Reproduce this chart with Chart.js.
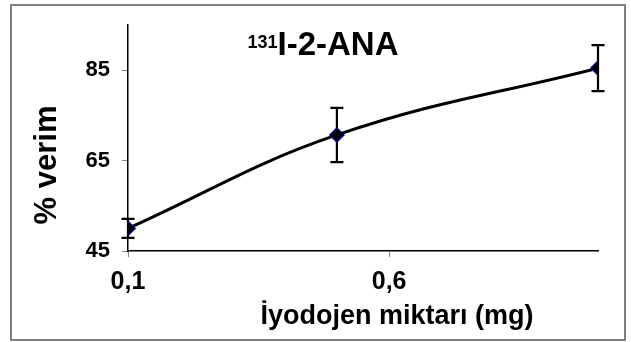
<!DOCTYPE html>
<html>
<head>
<meta charset="utf-8">
<script src="https://cdn.jsdelivr.net/npm/chart.js@4/dist/chart.umd.min.js"></script>
<style>
  body { margin: 0; background: #fff; }
  canvas { display: block; }
</style>
</head>
<body>
<canvas id="myChart" width="631" height="342"></canvas>
<script>
// iyodojen miktari (mg) vs % verim
var doses = [0.1, 0.5, 1.0];
var yieldPct = [50.0, 70.7, 85.5];
var yieldErr = [2.1, 6.0, 5.1];
var xTickVals = [0.1, 0.6];
var yTickVals = [45, 65, 85];

var FONT = "'Liberation Sans', Arial, sans-serif";

// border + titles drawn as text on the canvas
var decor = {
  id: 'decor',
  beforeDraw: function (chart) {
    var ctx = chart.ctx;
    ctx.save();
    ctx.fillStyle = '#fff';
    ctx.fillRect(0, 0, chart.width, chart.height);
    ctx.strokeStyle = '#808080';
    ctx.lineWidth = 2;
    ctx.strokeRect(11, 5, 614, 335);
    ctx.restore();
  },
  afterDraw: function (chart) {
    var ctx = chart.ctx;
    ctx.save();
    ctx.fillStyle = '#000';
    // chart title with superscript
    ctx.textBaseline = 'alphabetic';
    ctx.textAlign = 'left';
    ctx.font = 'bold 18px ' + FONT;
    var supW = ctx.measureText('131').width;
    ctx.font = 'bold 33px ' + FONT;
    var mainW = ctx.measureText('I-2-ANA').width;
    var x0 = 323 - (supW + mainW) / 2;
    ctx.font = 'bold 18px ' + FONT;
    ctx.fillText('131', x0, 48);
    ctx.font = 'bold 33px ' + FONT;
    ctx.fillText('I-2-ANA', x0 + supW, 55);
    // x title
    ctx.textAlign = 'center';
    ctx.font = 'bold 27px ' + FONT;
    ctx.fillText('İyodojen miktarı (mg)', 397, 324);
    // y title
    ctx.translate(56, 165);
    ctx.rotate(-Math.PI / 2);
    ctx.font = 'bold 31px ' + FONT;
    ctx.fillText('% verim', 0, 0);
    ctx.restore();
  }
};

// vertical error bars with caps
var errorBars = {
  id: 'errorBars',
  beforeDatasetsDraw: function (chart) {
    var ctx = chart.ctx;
    var xs = chart.scales.x, ys = chart.scales.y;
    ctx.save();
    ctx.strokeStyle = '#000';
    ctx.lineWidth = 2.2;
    for (var i = 0; i < doses.length; i++) {
      var px = xs.getPixelForValue(doses[i]);
      var top = ys.getPixelForValue(yieldPct[i] + yieldErr[i]);
      var bot = ys.getPixelForValue(yieldPct[i] - yieldErr[i]);
      ctx.beginPath();
      ctx.moveTo(px, top); ctx.lineTo(px, bot);
      ctx.moveTo(px - 6.5, top); ctx.lineTo(px + 6.5, top);
      ctx.moveTo(px - 6.5, bot); ctx.lineTo(px + 6.5, bot);
      ctx.stroke();
    }
    ctx.restore();
  }
};

data = {
  datasets: [{
    label: '131I-2-ANA',
    data: doses.map(function (d, i) { return { x: d, y: yieldPct[i] }; }),
    borderColor: '#000',
    borderWidth: 3,
    tension: 0.4,
    pointStyle: 'rectRot',
    pointRadius: 7,
    pointBackgroundColor: '#000',
    pointBorderColor: '#000080',
    pointBorderWidth: 1.5
  }]
};

let config = {
  type: 'line',
  data,
  options: {
    responsive: false,
    animation: false,
    devicePixelRatio: 1,
    layout: { padding: { left: 0, top: 25, right: 33, bottom: 0 } },
    plugins: { legend: { display: false }, tooltip: { enabled: false } },
    scales: {
      x: {
        type: 'linear',
        min: 0.1,
        max: 1.0,
        afterBuildTicks: function (s) { s.ticks = xTickVals.map(function (v) { return { value: v }; }); },
        afterFit: function (s) { s.height = 91; },
        grid: { drawOnChartArea: false, drawTicks: true, tickLength: 6, tickColor: '#808080' },
        border: { display: true, color: '#000', width: 1.5 },
        ticks: {
          padding: 10,
          color: '#000',
          font: { family: FONT, size: 25, weight: 'bold' },
          callback: function (v) { return v.toFixed(1).replace('.', ','); }
        }
      },
      y: {
        min: 45,
        max: 95,
        afterBuildTicks: function (s) { s.ticks = yTickVals.map(function (v) { return { value: v }; }); },
        afterFit: function (s) { s.width = 128; },
        grid: { drawOnChartArea: false, drawTicks: true, tickLength: 6, tickColor: '#808080' },
        border: { display: true, color: '#000', width: 1.5 },
        ticks: {
          padding: 12,
          color: '#000',
          font: { family: FONT, size: 22, weight: 'bold' }
        }
      }
    }
  },
  plugins: [decor, errorBars]
};

var myChart = new Chart(document.getElementById('myChart'), config);
</script>
</body>
</html>
